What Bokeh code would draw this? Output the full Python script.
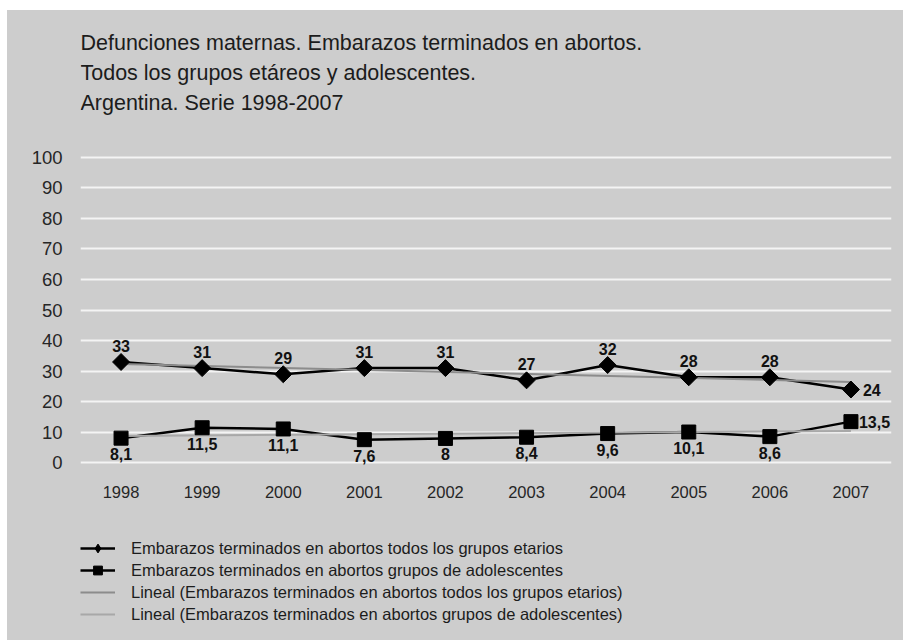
import math
from bokeh.plotting import figure
from bokeh.core.properties import value
from bokeh.models import (ColumnDataSource, LabelSet, Legend, LegendItem,
                          Range1d, FactorRange, Spacer)
from bokeh.layouts import column, row
from bokeh.embed import file_html
from bokeh.resources import INLINE

years = ["1998", "1999", "2000", "2001", "2002", "2003", "2004", "2005", "2006", "2007"]
todos = [33, 31, 29, 31, 31, 27, 32, 28, 28, 24]
todos_labels = ["33", "31", "29", "31", "31", "27", "32", "28", "28", "24"]
adolescentes = [8.1, 11.5, 11.1, 7.6, 8, 8.4, 9.6, 10.1, 8.6, 13.5]
adol_labels = ["8,1", "11,5", "11,1", "7,6", "8", "8,4", "9,6", "10,1", "8,6", "13,5"]
# linear trend lines (start / end values)
trend_todos = [32.35, 26.45]
trend_adol = [8.84, 10.46]
y_ticks = [0, 10, 20, 30, 40, 50, 60, 70, 80, 90, 100]
title_lines = ["Defunciones maternas. Embarazos terminados en abortos.",
               "Todos los grupos etáreos y adolescentes.",
               "Argentina. Serie 1998-2007"]
legend_labels = ["Embarazos terminados en abortos todos los grupos etarios",
                 "Embarazos terminados en abortos grupos de adolescentes",
                 "Lineal (Embarazos terminados en abortos todos los grupos etarios)",
                 "Lineal (Embarazos terminados en abortos grupos de adolescentes)"]

BG = "#cdcdcd"
FONT = "Liberation Sans"
TXT = "#1c1c1c"
TREND1 = "#8c8c8c"
TREND2 = "#a8a8a8"
W = 896
BL, BR = 73, 12
FW = W - BL - BR
NAN = [float("nan")]


def style(f):
    f.background_fill_alpha = 0
    f.border_fill_color = BG
    f.outline_line_color = None


def bare(height):
    f = figure(width=W, height=height, x_range=Range1d(0, FW), y_range=Range1d(0, height),
               x_axis_type=None, y_axis_type=None, output_backend="svg",
               toolbar_location=None, min_border_left=BL, min_border_right=BR,
               min_border_top=0, min_border_bottom=0)
    style(f)
    f.grid.visible = False
    return f


# ---- title ----
tf = bare(110)
tf.text(x=[0, 0, 0], y=[78, 48, 18], text=title_lines, text_font=value(FONT),
        text_font_size="21.5px", text_color=TXT, text_baseline="middle", text_align="left")

# ---- chart ----
p = figure(width=W, height=400, x_range=FactorRange(*years),
           y_range=Range1d(-1.5, 101.5), output_backend="svg", toolbar_location=None,
           min_border_left=BL, min_border_right=BR, min_border_top=32,
           min_border_bottom=53)
style(p)
p.xgrid.grid_line_color = None
p.ygrid.grid_line_color = "#f4f4f4"
p.ygrid.grid_line_width = 2
p.yaxis.ticker = y_ticks
for ax in (p.xaxis, p.yaxis):
    ax.axis_line_color = None
    ax.major_tick_line_color = None
    ax.minor_tick_line_color = None
    ax.major_tick_out = 0
    ax.major_tick_in = 0
    ax.major_label_text_font = FONT
    ax.major_label_text_color = "#262626"
p.yaxis.major_label_text_font_size = "18.5px"
p.xaxis.major_label_text_font_size = "16.5px"
p.yaxis.major_label_standoff = 18
p.xaxis.major_label_standoff = 18

r1 = p.line(years, todos, line_color="black", line_width=2.5)
r2 = p.line(years, adolescentes, line_color="black", line_width=2.5)
t1 = p.line([years[0], years[-1]], trend_todos, line_color=TREND1, line_width=2)
t2 = p.line([years[0], years[-1]], trend_adol, line_color=TREND2, line_width=2)
m1 = p.scatter(years, todos, marker="square", angle=math.pi / 4, size=12, color="black")
m2 = p.scatter(years, adolescentes, marker="square", size=14, color="black")

src_t = ColumnDataSource(dict(x=years[:-1], y=todos[:-1], t=todos_labels[:-1]))
src_te = ColumnDataSource(dict(x=years[-1:], y=todos[-1:], t=todos_labels[-1:]))
src_a = ColumnDataSource(dict(x=years[:-1], y=adolescentes[:-1], t=adol_labels[:-1]))
src_ae = ColumnDataSource(dict(x=years[-1:], y=adolescentes[-1:], t=adol_labels[-1:]))
common = dict(text_font=value(FONT), text_font_size=value("16px"),
              text_font_style=value("bold"), text_color=value("#111111"))
p.add_layout(LabelSet(x="x", y="y", text="t", source=src_t, y_offset=10,
                      text_align="center", text_baseline="alphabetic", **common))
p.add_layout(LabelSet(x="x", y="y", text="t", source=src_te, x_offset=12,
                      text_align="left", text_baseline="middle", **common))
p.add_layout(LabelSet(x="x", y="y", text="t", source=src_a, y_offset=-10,
                      text_align="center", text_baseline="top", **common))
p.add_layout(LabelSet(x="x", y="y", text="t", source=src_ae, x_offset=8,
                      text_align="left", text_baseline="middle", **common))

# ---- legend (sample renderers hold no visible point) ----
lf = bare(120)
l1 = lf.line(NAN, NAN, line_color="black", line_width=2.5)
l1m = lf.scatter(NAN, NAN, marker="diamond", size=12, color="black")
l2 = lf.line(NAN, NAN, line_color="black", line_width=2.5)
l2m = lf.scatter(NAN, NAN, marker="square", size=12, color="black")
l3 = lf.line(NAN, NAN, line_color=TREND1, line_width=2)
l4 = lf.line(NAN, NAN, line_color=TREND2, line_width=2)
legend = Legend(items=[LegendItem(label=legend_labels[0], renderers=[l1, l1m]),
                       LegendItem(label=legend_labels[1], renderers=[l2, l2m]),
                       LegendItem(label=legend_labels[2], renderers=[l3]),
                       LegendItem(label=legend_labels[3], renderers=[l4])],
                location=(0, 15), orientation="vertical",
                background_fill_alpha=0, border_line_color=None, padding=0, margin=0,
                spacing=0, glyph_width=35, glyph_height=22, label_height=22,
                label_standoff=16, label_text_font=FONT, label_text_font_size="16.5px",
                label_text_color=TXT)
lf.add_layout(legend)

body = column(tf, p, lf, styles={"background-color": BG})
root = column(Spacer(height=10, width=903),
              row(Spacer(width=7, height=630), body))
open("out.html", "w").write(file_html(root, INLINE))
